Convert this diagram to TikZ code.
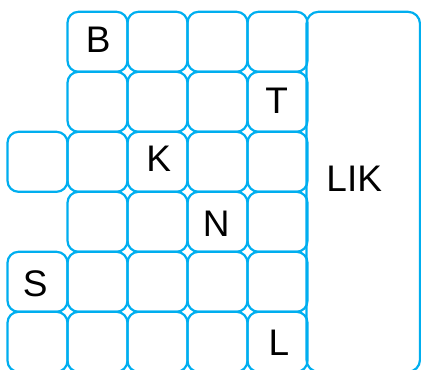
\documentclass[tikz,border=0pt]{standalone}
\usepackage{fontspec}
\setmainfont{Liberation Sans}
\definecolor{gridcyan}{RGB}{0,174,239}
\begin{document}
\begin{tikzpicture}[x=1pt,y=-1pt,
  cell/.style={draw=gridcyan, line width=2.2pt, rounded corners=11pt,
    minimum width=60pt, minimum height=60pt, inner sep=0pt},
  bigbox/.style={draw=gridcyan, line width=2.2pt, rounded corners=12pt,
    minimum width=113.5pt, minimum height=360pt, inner sep=0pt},
  letter/.style={font=\fontsize{37}{40}\selectfont, inner sep=0pt}]
\useasboundingbox (0,0) rectangle (421,370);
\clip (0,0) rectangle (421,370);
% cells
\foreach \r/\cols in {0/{1,2,3,4},1/{1,2,3,4},2/{0,1,2,3,4},3/{1,2,3,4},4/{0,1,2,3,4},5/{0,1,2,3,4}}{
  \foreach \c in \cols {
    \node[cell] (c-\r-\c) at ({37.5+60*\c},{41.8+60*\r}) {};
  }
}
\node[bigbox] (big) at (363.25,191.8) {};
% letters
\node[letter] (lB) at (98.3,39.8) {B};
\node[letter] (lT) at (276.7,100.3) {T};
\node[letter] (lK) at (158.8,159) {K};
\node[letter] (lN) at (216.3,224.2) {N};
\node[letter] (lS) at (35.3,284) {S};
\node[letter] (lL) at (278.8,343) {L};
\node[letter] (lLIK) at (354.2,178.9) {LIK};
\end{tikzpicture}
\end{document}
